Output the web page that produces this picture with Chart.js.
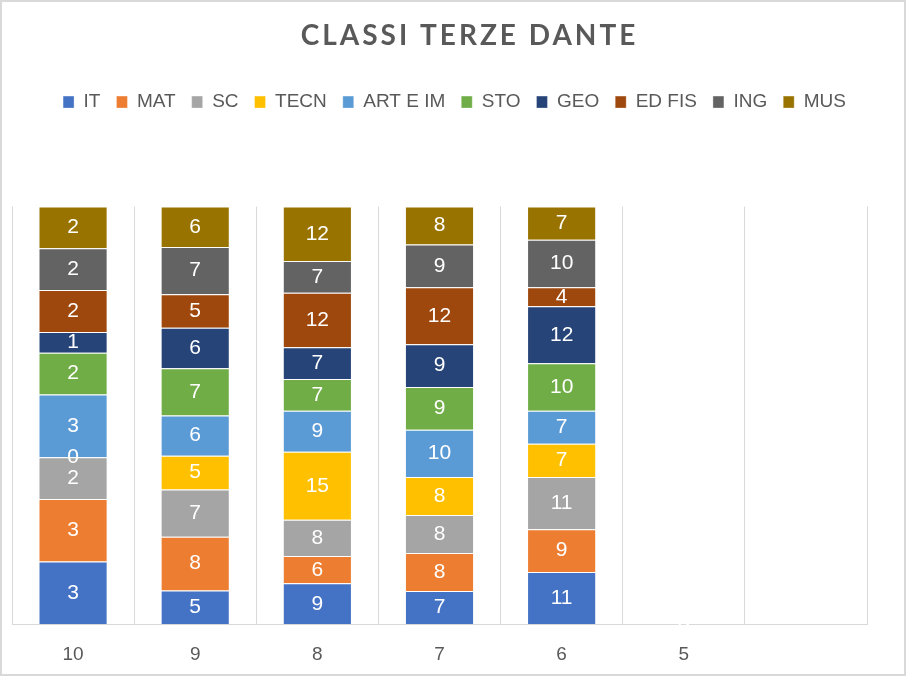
<!DOCTYPE html>
<html lang="it">
<head>
    <meta charset="UTF-8">
    <title>Classi terze Dante</title>
    <style>
        * { box-sizing: border-box; }
        body { margin: 0; background: #fff; }
        .wrap {
            width: 906px;
            height: 676px;
            border: 2px solid #d9d9d9;
            background: #fff;
        }
    </style>
</head>
<body>
    <div class="wrap">
        <canvas id="grafico"></canvas>
    </div>

    <script src="https://cdn.jsdelivr.net/npm/chart.js@4.4.1/dist/chart.umd.min.js"></script>
    <script>
        // classi (ultima colonna vuota come nel grafico originale)
        const classi = ['10', '9', '8', '7', '6', '5', ''];

        // valori per materia, uno per classe
        const it    = [3, 5, 9, 7, 11, 0, null];
        const mat   = [3, 8, 6, 8, 9, 0, null];
        const sc    = [2, 7, 8, 8, 11, 0, null];
        const tecn  = [0, 5, 15, 8, 7, 0, null];
        const arte  = [3, 6, 9, 10, 7, 0, null];
        const sto   = [2, 7, 7, 9, 10, 0, null];
        const geo   = [1, 6, 7, 9, 12, 0, null];
        const edfis = [2, 5, 12, 12, 4, 0, null];
        const ing   = [2, 7, 7, 9, 10, 0, null];
        const mus   = [2, 6, 12, 8, 7, 0, null];

        const materie = ['IT', 'MAT', 'SC', 'TECN', 'ART E IM', 'STO', 'GEO', 'ED FIS', 'ING', 'MUS'];
        const serie = [it, mat, sc, tecn, arte, sto, geo, edfis, ing, mus];
        const colori = ['#4472C4', '#ED7D31', '#A5A5A5', '#FFC000', '#5B9BD5',
                        '#70AD47', '#264478', '#9E480E', '#636363', '#997300'];

        // totale per classe -> barre in percentuale (100% in pila)
        const totali = classi.map((c, j) => serie.reduce((s, v) => s + (v[j] || 0), 0));

        const datasets = serie.map((valori, i) => ({
            label: materie[i],
            valori: valori,
            data: valori.map((v, j) => v === null ? null : (totali[j] ? v / totali[j] * 100 : 0)),
            backgroundColor: colori[i],
            borderColor: 'rgba(255,255,255,0.35)',
            borderWidth: 1,
            categoryPercentage: 1,
            barPercentage: 0.566
        }));

        // etichette bianche dentro i segmenti
        const etichette = {
            id: 'etichette',
            afterDatasetsDraw(chart) {
                const ctx = chart.ctx;
                ctx.save();
                ctx.font = '21px "Liberation Sans"';
                ctx.fillStyle = '#ffffff';
                ctx.textAlign = 'center';
                ctx.textBaseline = 'middle';
                chart.data.datasets.forEach((ds, i) => {
                    chart.getDatasetMeta(i).data.forEach((bar, j) => {
                        const v = ds.valori[j];
                        if (v === null || v === undefined) return;
                        const p = bar.getProps(['x', 'y', 'base'], true);
                        ctx.fillText(String(v), p.x, (p.y + p.base) / 2);
                    });
                });
                ctx.restore();
            }
        };

        // spaziatura titolo, posizione legenda e spazio sotto la legenda
        const ritocchi = {
            id: 'ritocchi',
            beforeInit(chart) {
                const tb = chart.titleBlock;
                const tDraw = tb.draw;
                tb.draw = function () {
                    this.ctx.save();
                    this.ctx.letterSpacing = '3px';
                    this.ctx.translate(30, 0);
                    tDraw.apply(this, arguments);
                    this.ctx.restore();
                };
                const lg = chart.legend;
                const lFit = lg.fit;
                lg.fit = function () {
                    lFit.apply(this, arguments);
                    this.height += 85;
                };
                const lDraw = lg.draw;
                lg.draw = function () {
                    this.ctx.save();
                    this.ctx.translate(15, 0);
                    lDraw.apply(this, arguments);
                    this.ctx.restore();
                };
            }
        };

        new Chart(document.getElementById('grafico'), {
            type: 'bar',
            data: {
                labels: classi,
                datasets: datasets
            },
            options: {
                responsive: true,
                maintainAspectRatio: false,
                animation: false,
                layout: {
                    padding: { left: 10, right: 37, top: 0, bottom: 8 }
                },
                plugins: {
                    title: {
                        display: true,
                        text: 'CLASSI TERZE DANTE',
                        color: '#595959',
                        font: { family: 'Lato', size: 28, weight: 'bold' },
                        padding: { top: 17, bottom: 24 }
                    },
                    legend: {
                        position: 'top',
                        labels: {
                            color: '#595959',
                            font: { family: 'Liberation Sans', size: 19 },
                            boxWidth: 11,
                            boxHeight: 12,
                            padding: 16
                        }
                    },
                    tooltip: { enabled: false }
                },
                scales: {
                    x: {
                        stacked: true,
                        grid: { color: '#d9d9d9', lineWidth: 1, drawTicks: false, offset: true },
                        border: { color: '#d9d9d9' },
                        ticks: {
                            color: '#595959',
                            font: { family: 'Liberation Sans', size: 19 },
                            padding: 19
                        },
                        afterFit(scale) {
                            scale.height -= 19;
                        }
                    },
                    y: {
                        stacked: true,
                        display: false,
                        min: 0,
                        max: 100
                    }
                }
            },
            plugins: [etichette, ritocchi]
        });
    </script>
</body>
</html>
